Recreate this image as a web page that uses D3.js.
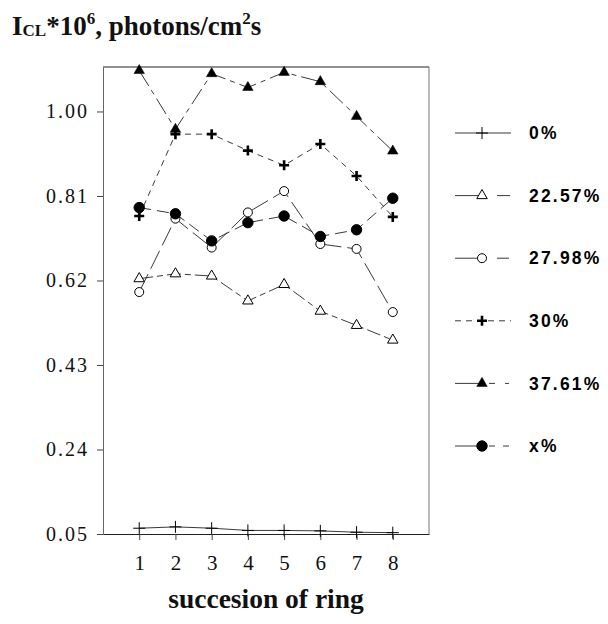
<!DOCTYPE html>
<html>
<head>
<meta charset="utf-8">
<script src="https://cdn.jsdelivr.net/npm/d3@7"></script>
<style>
  body { margin: 0; background: #fff; }
  svg { display: block; }
</style>
</head>
<body>
<svg id="chart"></svg>
<script>
// values
var rings = [1, 2, 3, 4, 5, 6, 7, 8];
var s0 = [0.063, 0.066, 0.063, 0.058, 0.058, 0.057, 0.054, 0.053];
var s2257 = [0.624, 0.635, 0.630, 0.574, 0.611, 0.551, 0.519, 0.486];
var s2798 = [0.594, 0.759, 0.694, 0.773, 0.821, 0.702, 0.691, 0.549];
var s30 = [0.765, 0.949, 0.949, 0.912, 0.879, 0.927, 0.855, 0.763];
var s3761 = [1.092, 0.960, 1.085, 1.054, 1.088, 1.067, 0.989, 0.911];
var sx = [0.784, 0.770, 0.709, 0.750, 0.765, 0.719, 0.734, 0.805];
var seriesNames = ["0%", "22.57%", "27.98%", "30%", "37.61%", "x%"];
var yTicks = [0.05, 0.24, 0.43, 0.62, 0.81, 1.00];

var allValues = [s0, s2257, s2798, s30, s3761, sx];

// how each series is drawn
var styles = [
    { marker: "thinplus", dash: null, legendDash: null },
    { marker: "opentri", dash: "14,4,6,4", legendDash: "26,16,13,20" },
    { marker: "opencircle", dash: "20,6", legendDash: "26,16,12,20" },
    { marker: "plus", dash: "6,5", legendDash: "6,5" },
    { marker: "tri", dash: "18,5,5,5", legendDash: "26,8,6,10,4,20" },
    { marker: "circle", dash: "12,6", legendDash: "26,8,6,8,6,20" }
];

var series = seriesNames.map(function(name, i) {
    return { name: name, values: allValues[i], style: styles[i] };
});

const svgWidth = 608,
    svgHeight = 624;

var svg = d3.select("#chart")
    .attr("width", svgWidth)
    .attr("height", svgHeight);

var x = d3.scaleLinear().domain([0, 9]).range([103, 429]);
var y = d3.scaleLinear().domain([0.05, 1.10]).range([534, 67]);

// frame top and right
svg.append("line")
    .attr("x1", x(0)).attr("x2", x(9))
    .attr("y1", y(1.10)).attr("y2", y(1.10))
    .attr("stroke", "#222").attr("stroke-width", 1.2);
svg.append("line")
    .attr("x1", x(9)).attr("x2", x(9))
    .attr("y1", y(1.10)).attr("y2", y(0.05))
    .attr("stroke", "#777").attr("stroke-width", 1);

var yAxis = d3.axisLeft(y)
    .tickValues(yTicks)
    .tickFormat(d3.format(".2f"))
    .tickSize(6)
    .tickSizeOuter(0)
    .tickPadding(8);

var xAxis = d3.axisBottom(x)
    .tickValues(rings)
    .tickFormat(d3.format("d"))
    .tickSize(6)
    .tickSizeOuter(0)
    .tickPadding(15);

var gy = svg.append("g")
    .attr("transform", "translate(" + x(0) + ",0)")
    .call(yAxis);

var gx = svg.append("g")
    .attr("transform", "translate(0," + y(0.05) + ")")
    .call(xAxis);

gy.select(".domain").attr("stroke", "#666");
gx.select(".domain").attr("stroke", "#222").attr("stroke-width", 1.2);
svg.selectAll(".tick line").attr("stroke", "#444");

gy.selectAll(".tick text")
    .attr("font-family", "Liberation Serif")
    .attr("font-size", 20)
    .attr("letter-spacing", 2)
    .attr("fill", "#111");

gx.selectAll(".tick text")
    .attr("font-family", "Liberation Serif")
    .attr("font-size", 21)
    .attr("fill", "#111");

// lines
var line = d3.line()
    .x(function(d, i) { return x(rings[i]); })
    .y(function(d) { return y(d); });

svg.selectAll(".series")
    .data(series)
    .enter()
    .append("path")
    .attr("class", "series")
    .attr("d", function(d) { return line(d.values); })
    .attr("fill", "none")
    .attr("stroke", "#222")
    .attr("stroke-width", 0.9)
    .attr("stroke-dasharray", function(d) { return d.style.dash; });

function drawMarker(sel, type) {
    if (type === "tri" || type === "opentri") {
        sel.append("path")
            .attr("d", d3.symbol().type(d3.symbolTriangle).size(48))
            .attr("fill", type === "tri" ? "#000" : "#fff")
            .attr("stroke", "#000")
            .attr("stroke-width", type === "tri" ? 0.5 : 1);
    } else if (type === "circle" || type === "opencircle") {
        sel.append("circle")
            .attr("r", type === "circle" ? 5.2 : 4.5)
            .attr("fill", type === "circle" ? "#000" : "#fff")
            .attr("stroke", "#000")
            .attr("stroke-width", 1);
    } else {
        var h = type === "plus" ? 5 : 6;
        sel.append("path")
            .attr("d", "M" + (-h) + ",0H" + h + "M0," + (-h) + "V" + h)
            .attr("stroke", "#000")
            .attr("stroke-width", type === "plus" ? 2.6 : 1);
    }
}

series.forEach(function(s) {
    s.values.forEach(function(v, i) {
        var m = svg.append("g")
            .attr("transform", "translate(" + x(rings[i]) + "," + y(v) + ")");
        drawMarker(m, s.style.marker);
    });
});

// legend
var legendTop = 133, legendStep = 62.6;
series.forEach(function(s, i) {
    var ly = legendTop + i * legendStep;
    svg.append("line")
        .attr("x1", 455).attr("x2", 511)
        .attr("y1", ly).attr("y2", ly)
        .attr("stroke", "#222")
        .attr("stroke-width", 0.9)
        .attr("stroke-dasharray", s.style.legendDash);
    var m = svg.append("g").attr("transform", "translate(482," + ly + ")");
    drawMarker(m, s.style.marker);
    svg.append("text")
        .attr("x", 529)
        .attr("y", ly)
        .attr("dy", "0.35em")
        .attr("font-family", "Liberation Sans")
        .attr("font-weight", "bold")
        .attr("font-size", 17.5)
        .attr("letter-spacing", 2.2)
        .attr("fill", "#000")
        .text(s.name);
});

// title
var title = svg.append("text")
    .attr("x", 12)
    .attr("y", 35)
    .attr("font-family", "Liberation Serif")
    .attr("font-weight", "bold")
    .attr("font-size", 27)
    .attr("fill", "#111");
title.append("tspan").text("I");
title.append("tspan").attr("font-size", 17).attr("dy", 1).text("CL");
title.append("tspan").attr("dy", -1).text("*10");
title.append("tspan").attr("font-size", 17).attr("dy", -11).text("6");
title.append("tspan").attr("dy", 11).text(", photons/cm");
title.append("tspan").attr("font-size", 17).attr("dy", -11).text("2");
title.append("tspan").attr("dy", 11).text("s");

// x axis title
svg.append("text")
    .attr("x", (x(0) + x(9)) / 2)
    .attr("y", 608)
    .attr("text-anchor", "middle")
    .attr("font-family", "Liberation Serif")
    .attr("font-weight", "bold")
    .attr("font-size", 27.5)
    .attr("fill", "#111")
    .text("succesion of ring");
</script>
</body>
</html>
